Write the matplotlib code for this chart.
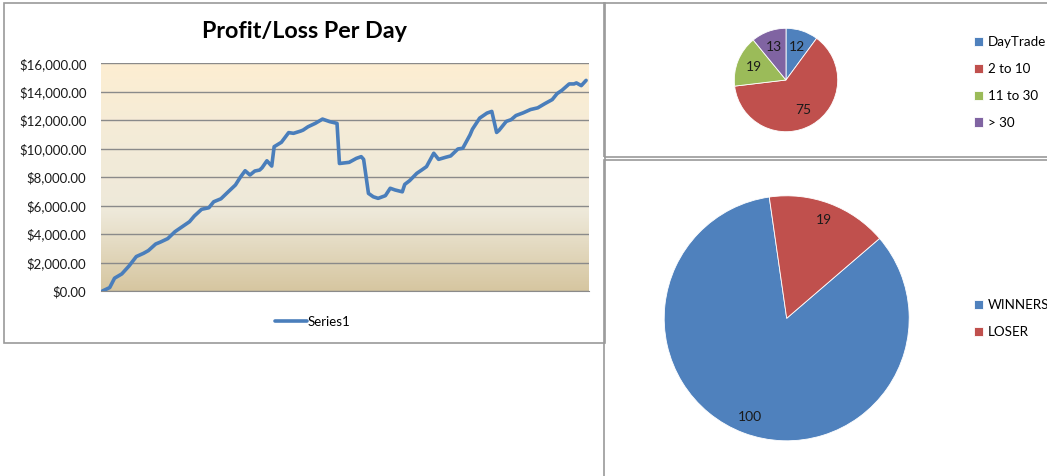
import numpy as np
import matplotlib
matplotlib.use("Agg")
import matplotlib.pyplot as plt
from matplotlib.patches import Rectangle
from matplotlib.colors import LinearSegmentedColormap
from matplotlib.ticker import FuncFormatter, MultipleLocator

plt.rcParams['font.family'] = ['Lato', 'DejaVu Sans']

# profit/loss line (day index, cumulative $)
days = [0, 3, 5, 8, 11, 14, 17, 19, 22, 24, 27, 30, 33, 36, 38, 41, 44, 46, 49, 52,
        55, 57, 59, 61, 63, 65, 66, 68, 70, 71, 74, 77, 79, 82, 83, 85, 88, 91, 94, 97,
        98, 102, 105, 107, 108, 110, 112, 114, 117, 119, 121, 124, 125, 127, 130, 132, 134, 137, 139, 142,
        144, 147, 149, 152, 153, 156, 159, 161, 163, 164, 167, 169, 171, 174, 177, 180, 183, 186, 188, 190,
        193, 195, 196, 198, 200]
profit = [0, 240, 900, 1200, 1760, 2420, 2650, 2840, 3300, 3440, 3680, 4170, 4520, 4870, 5270, 5740, 5850, 6270, 6480, 6970,
          7450, 7990, 8450, 8150, 8430, 8500, 8660, 9150, 8780, 10140, 10450, 11130, 11080, 11240, 11310, 11540, 11780, 12080, 11900, 11780,
          8960, 9040, 9320, 9440, 9250, 6860, 6620, 6510, 6700, 7220, 7100, 6970, 7490, 7750, 8270, 8500, 8740, 9680, 9250, 9400,
          9490, 9980, 10030, 10970, 11370, 12150, 12500, 12620, 11140, 11290, 11920, 12040, 12330, 12520, 12750, 12870, 13170, 13450, 13870, 14100,
          14550, 14550, 14620, 14430, 14800]

hold_labels = ["DayTrade", "2 to 10", "11 to 30", "> 30"]
hold_counts = [12, 75, 19, 13]

result_labels = ["WINNERS", "LOSER"]
result_counts = [100, 19]

blue, red, green, purple = "#4F81BD", "#C0504D", "#9BBB59", "#8064A2"

W, H = 1047, 476
fig = plt.figure(figsize=(W / 100, H / 100), dpi=100)


def fx(px):
    return px / W


def fy(py):
    return 1 - py / H


# chart frames
frame = dict(transform=fig.transFigure, fill=False, edgecolor="#9A9A9A", lw=1.2)
fig.patches.append(Rectangle((fx(4), fy(343)), fx(601), 340 / H, **frame))
fig.patches.append(Rectangle((fx(604), fy(157)), fx(460), 154 / H, **frame))
fig.patches.append(Rectangle((fx(604), fy(490)), fx(460), 330 / H, **frame))

# ---- line chart
ax = fig.add_axes([fx(101), fy(291), fx(488), 227.7 / H])
grad = LinearSegmentedColormap.from_list(
    "bg", [(0.0, "#D6C6A0"), (0.35, "#EEE9DA"), (0.65, "#F3EBD8"), (1.0, "#FDEED2")])
ax.imshow(np.linspace(0, 1, 256).reshape(-1, 1), cmap=grad, origin="lower",
          extent=[0, 1, 0, 1], transform=ax.transAxes, aspect="auto", zorder=0)
ax.plot(days, profit, color="#4A7EBB", lw=2.6, zorder=3, label="Series1",
        solid_joinstyle="round", solid_capstyle="round")
ax.set_xlim(-0.6, 201.2)
ax.set_ylim(0, 16000)
ax.yaxis.set_major_locator(MultipleLocator(2000))
ax.yaxis.set_major_formatter(FuncFormatter(lambda v, p: "${:,.2f}".format(v)))
ax.grid(axis="y", color="#8A8A8A", lw=1.0, zorder=1)
ax.set_axisbelow(False)
ax.set_xticks([])
ax.tick_params(axis="y", length=0, pad=10.5, labelsize=9.5, labelcolor="#1A1A1A")
for s in ["top", "right", "left"]:
    ax.spines[s].set_visible(False)
ax.spines["bottom"].set_color("#8A8A8A")
fig.text(fx(304), fy(32), "Profit/Loss Per Day", ha="center", va="center",
         fontsize=16.8, fontweight="bold")
ax.legend(loc="center", bbox_to_anchor=(fx(313), fy(322)), bbox_transform=fig.transFigure,
          frameon=False, fontsize=9.5, handlelength=2.4, handletextpad=0.05)

# ---- holding period pie
r1 = 51.7
ax2 = fig.add_axes([fx(786 - r1), fy(80 + r1), fx(2 * r1), 2 * r1 / H])
w2, t2 = ax2.pie(hold_counts, labels=[str(v) for v in hold_counts],
                 colors=[blue, red, green, purple], startangle=90, counterclock=False,
                 labeldistance=0.67, wedgeprops=dict(edgecolor="white", lw=0.6),
                 textprops=dict(fontsize=10, ha="center", va="center", color="#1A1A1A"))
ax2.set_xlim(-1, 1)
ax2.set_ylim(-1, 1)
fig.legend(w2, hold_labels, loc="upper left", bbox_to_anchor=(fx(962), fy(24)),
           frameon=False, fontsize=9.6, handlelength=0.7, handleheight=0.7,
           handletextpad=0.35, labelspacing=1.12)

# ---- winners/losers pie
r2 = 122.5
ax3 = fig.add_axes([fx(786.7 - r2), fy(318.3 + r2), fx(2 * r2), 2 * r2 / H])
w3, t3 = ax3.pie(result_counts, labels=[str(v) for v in result_counts],
                 colors=[blue, red], startangle=40.7, counterclock=False,
                 labeldistance=0.86, wedgeprops=dict(edgecolor="white", lw=0.6),
                 textprops=dict(fontsize=10, ha="center", va="center", color="#1A1A1A"))
ax3.set_xlim(-1, 1)
ax3.set_ylim(-1, 1)
fig.legend(w3, result_labels, loc="upper left", bbox_to_anchor=(fx(962), fy(287)),
           frameon=False, fontsize=9.6, handlelength=0.7, handleheight=0.7,
           handletextpad=0.35, labelspacing=1.12)

fig.savefig("out.png", dpi=100)
